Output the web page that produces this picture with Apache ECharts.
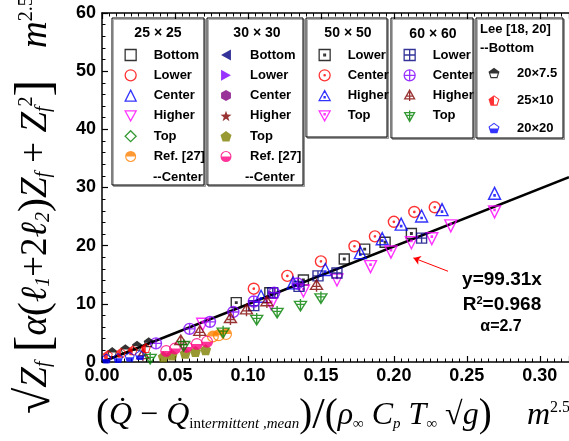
<!DOCTYPE html>
<html>
<head>
<meta charset="utf-8">
<script src="https://cdn.jsdelivr.net/npm/echarts@6/dist/echarts.min.js"></script>
<style>
  html, body { margin: 0; padding: 0; background: #fff; }
  #chart { width: 569px; height: 441px; }
</style>
</head>
<body>
<div id="chart"></div>
<script>
// tick labels
const xTickLabels = ['0.00', '0.05', '0.10', '0.15', '0.20', '0.25', '0.30'];
const yTickLabels = ['0', '10', '20', '30', '40', '50', '60'];

// 25x25 (only the Ref. [27] centre points are visible)
const s25Bottom = [];
const s25Lower = [];
const s25Center = [];
const s25Higher = [];
const s25Top = [];
const s25Ref = [[0.076, 4.4], [0.080, 4.6], [0.085, 4.8]];

// 30x30
const s30Bottom = [];
const s30Lower = [];
const s30Center = [];
const s30Higher = [];
const s30Top = [[0.042, 0.9], [0.048, 1.2], [0.057, 1.5], [0.064, 1.8], [0.071, 2.1]];
const s30Ref = [[0.044, 1.9], [0.050, 2.3], [0.058, 2.6], [0.065, 3.1], [0.072, 3.5]];

// 50x50
const s50Lower = [[0.092, 10.2], [0.115, 11.9], [0.138, 14.1], [0.166, 17.7], [0.180, 19.4], [0.194, 20.6], [0.212, 22.1]];
const s50Center = [[0.104, 12.6], [0.127, 14.8], [0.150, 17.3], [0.173, 19.9], [0.187, 21.6], [0.200, 24.1], [0.214, 25.8], [0.228, 26.6]];
const s50Higher = [[0.109, 11.3], [0.131, 13.6], [0.153, 15.9], [0.177, 18.8], [0.192, 21.2], [0.205, 23.7], [0.219, 25.1], [0.233, 26.2], [0.269, 29.0]];
const s50Top = [[0.069, 6.5], [0.116, 10.0], [0.138, 12.2], [0.161, 14.1], [0.184, 16.4], [0.198, 18.9], [0.212, 20.5], [0.226, 21.2], [0.239, 23.4], [0.269, 25.8]];

// 60x60
const s60Lower = [[0.104, 9.7], [0.117, 11.9], [0.135, 13.0], [0.148, 14.8], [0.161, 15.3], [0.219, 21.3]];
const s60Center = [[0.037, 3.2], [0.060, 5.7], [0.074, 6.9], [0.090, 8.6], [0.104, 10.4], [0.118, 11.9], [0.134, 13.5]];
const s60Higher = [[0.028, 1.2], [0.054, 3.6], [0.067, 5.2], [0.088, 7.4], [0.099, 8.9], [0.113, 10.3], [0.147, 13.1]];
const s60Top = [[0.033, 0.7], [0.056, 2.9], [0.083, 5.2], [0.106, 7.4], [0.120, 8.6], [0.136, 9.8], [0.150, 11.1]];

// Lee [18, 20] --Bottom
const lee20x75 = [[0.007, 1.7], [0.016, 2.2], [0.024, 2.8], [0.032, 3.4]];
const lee25x10 = [[0.004, 1.2], [0.013, 1.6], [0.021, 2.0], [0.030, 2.4]];
const lee20x20 = [[0.003, 0.6], [0.011, 0.7], [0.019, 0.9], [0.026, 1.2]];

// fit y = 99.31x and the pointer arrow
const fitLine = [[0, 0], [0.32, 31.78]];
const arrowFrom = [0.2371, 15.6];
const arrowTo = [0.2134, 17.9];

const sans = '"Liberation Sans", Arial, sans-serif';
const serif = '"Liberation Serif", "DejaVu Serif", serif';

// marker shapes
const ring = 'M0 10A10 10 0 1 1 20 10A10 10 0 1 1 0 10Z M2 10A8 8 0 1 0 18 10A8 8 0 1 0 2 10Z';
const pentRing = 'M10 0L20 7.3L16.2 19H3.8L0 7.3Z M10 2.2L2.2 7.7L5.2 16.9H14.8L17.8 7.7Z';
const sym = {
  sqDot: 'path://M0 0H20V20H0Z M8.5 8.5H11.5V11.5H8.5Z',
  cirDot: 'path://M0 10A10 10 0 1 1 20 10A10 10 0 1 1 0 10Z M8.8 10A1.2 1.2 0 1 1 11.2 10A1.2 1.2 0 1 1 8.8 10Z',
  triDot: 'path://M10 0L20 18H0Z M9 11H11V13H9Z',
  dtriDot: 'path://M0 0H20L10 18Z M9 5H11V7H9Z',
  sqCross: 'path://M0 0H20V20H0Z M10 0V20 M0 10H20',
  cirCross: 'path://M0 10A10 10 0 1 1 20 10A10 10 0 1 1 0 10Z M10 0V20 M0 10H20',
  triCross: 'path://M10 0L19 16H1Z M10 0V20 M4 11H16',
  dtriCross: 'path://M1 4H19L10 20Z M10 0V20 M4 9H16',
  leftTri: 'path://M0 10L18 0V20Z',
  rightTri: 'path://M18 10L0 0V20Z',
  hexagon: 'path://M10 0L19 5V15L10 20L1 15V5Z',
  star: 'path://M10 0.5L12.35 7.26L19.51 7.41L13.8 11.74L15.88 18.59L10 14.5L4.12 18.59L6.2 11.74L0.49 7.41L7.65 7.26Z',
  pentagon: 'path://M10 0L20 7.3L16.2 19H3.8L0 7.3Z',
  halfTop: 'path://' + ring + ' M0 10A10 10 0 0 1 20 10Z',
  halfBottom: 'path://' + ring + ' M20 10A10 10 0 0 1 0 10Z',
  pentTop: 'path://' + pentRing + ' M10 0L20 7.3L19 10.3H1L0 7.3Z',
  pentLeft: 'path://' + pentRing + ' M10 0V19H3.8L0 7.3Z',
  pentBottom: 'path://' + pentRing + ' M19 10.3L16.2 19H3.8L1 10.3Z'
};

function openSeries(name, data, symbol, color, size) {
  return {
    type: 'scatter', name: name, data: data, symbol: symbol, symbolSize: size,
    itemStyle: { color: 'rgba(0,0,0,0)', borderColor: color, borderWidth: 1.4 }
  };
}
function solidSeries(name, data, symbol, color, size) {
  return {
    type: 'scatter', name: name, data: data, symbol: symbol, symbolSize: size,
    itemStyle: { color: color, borderWidth: 0 }
  };
}

const series = [
  {
    type: 'line', name: 'fit', data: fitLine, symbol: 'none', z: 1, silent: true,
    lineStyle: { color: '#000', width: 2.5 },
    markLine: {
      silent: true, symbol: ['none', 'arrow'], symbolSize: 7,
      label: { show: false },
      lineStyle: { color: '#ff0000', width: 1, type: 'solid' },
      data: [[{ coord: arrowFrom }, { coord: arrowTo }]]
    }
  },
  openSeries('25×25|Bottom', s25Bottom, 'rect', '#000000', 10),
  openSeries('25×25|Lower', s25Lower, 'circle', '#ff0000', 11),
  openSeries('25×25|Center', s25Center, 'triangle', '#0000ff', 12),
  openSeries('25×25|Higher', s25Higher, 'path://M0 0H20L10 18Z', '#ff00ff', 12),
  openSeries('25×25|Top', s25Top, 'diamond', '#008000', 12),
  solidSeries('25×25|Ref. [27]', s25Ref, sym.halfTop, '#ff8000', 12),
  solidSeries('30×30|Bottom', s30Bottom, sym.leftTri, '#000080', 12),
  solidSeries('30×30|Lower', s30Lower, sym.rightTri, '#8000ff', 12),
  solidSeries('30×30|Center', s30Center, sym.hexagon, '#800080', 12),
  solidSeries('30×30|Higher', s30Higher, sym.star, '#800000', 12),
  solidSeries('30×30|Top', s30Top, sym.pentagon, '#808000', 11),
  solidSeries('30×30|Ref. [27]', s30Ref, sym.halfBottom, '#ff0080', 12),
  openSeries('50×50|Lower', s50Lower, sym.sqDot, '#000000', 10),
  openSeries('50×50|Center', s50Center, sym.cirDot, '#ff0000', 11),
  openSeries('50×50|Higher', s50Higher, sym.triDot, '#0000ff', 12),
  openSeries('50×50|Top', s50Top, sym.dtriDot, '#ff00ff', 12),
  openSeries('60×60|Lower', s60Lower, sym.sqCross, '#000080', 10),
  openSeries('60×60|Center', s60Center, sym.cirCross, '#8000ff', 11),
  openSeries('60×60|Higher', s60Higher, sym.triCross, '#800000', 12),
  openSeries('60×60|Top', s60Top, sym.dtriCross, '#008000', 12),
  solidSeries('Lee|20×7.5', lee20x75, sym.pentTop, '#000000', 10),
  solidSeries('Lee|25×10', lee25x10, sym.pentLeft, '#ff0000', 10),
  solidSeries('Lee|20×20', lee20x20, sym.pentBottom, '#0000ff', 10)
];

function groupNames(prefix) {
  return series.filter(s => s.name.indexOf(prefix + '|') === 0).map(s => s.name);
}
function makeLegend(prefix, left, top, gap, pad) {
  return {
    orient: 'vertical', left: left, top: top, padding: 0,
    itemWidth: 11, itemHeight: 11, itemGap: gap,
    selectedMode: false,
    data: groupNames(prefix),
    formatter: name => name.split('|')[1],
    itemStyle: { borderWidth: 1.3 },
    textStyle: { fontFamily: sans, fontSize: 13, fontWeight: 'bold', color: '#000', padding: [0, 0, 0, pad] }
  };
}

function box(x1, y1, x2, y2) {
  return {
    type: 'rect', z: 0,
    shape: { x: x1, y: y1, width: x2 - x1, height: y2 - y1 },
    style: { fill: '#fff', stroke: '#000', lineWidth: 1, shadowColor: 'rgba(0,0,0,0.3)', shadowOffsetX: 1.5, shadowOffsetY: 1.5, shadowBlur: 0 }
  };
}
function label(x, y, text, align, size) {
  return {
    type: 'text', x: x, y: y, z: 5,
    style: {
      text: text, align: align || 'center', verticalAlign: 'middle', fill: '#000',
      font: 'bold ' + (size || 13) + 'px ' + sans,
      rich: {
        b: { fontFamily: sans, fontSize: size || 13, fontWeight: 'bold' },
        c: { fontFamily: sans, fontSize: size || 13, fontWeight: 'bold', padding: [0, 2, 0, 2] },
        sup: { fontFamily: sans, fontSize: 11, fontWeight: 'bold', padding: [0, 0, 9, 0] }
      }
    }
  };
}

const mathRich = {
  v: { fontFamily: serif, fontStyle: 'italic', fontSize: 37, color: '#000' },
  n: { fontFamily: serif, fontSize: 37, color: '#000' },
  p: { fontFamily: serif, fontSize: 42, color: '#000' },
  br: { fontFamily: serif, fontSize: 50, color: '#000' },
  rad: { fontFamily: serif, fontSize: 48, color: '#000' },
  sub: { fontFamily: serif, fontStyle: 'italic', fontSize: 20, color: '#000', padding: [16, 0, 0, 0] },
  sup: { fontFamily: serif, fontSize: 20, color: '#000', padding: [0, 0, 18, 0] }
};
const xRich = {
  v: { fontFamily: serif, fontStyle: 'italic', fontSize: 32, color: '#000' },
  n: { fontFamily: serif, fontSize: 32, color: '#000' },
  p: { fontFamily: serif, fontSize: 39, color: '#000' },
  sl: { fontFamily: serif, fontSize: 45, color: '#000' },
  sub: { fontFamily: serif, fontStyle: 'italic', fontSize: 15, color: '#000', padding: [16, 0, 0, 0] },
  subr: { fontFamily: serif, fontSize: 15, color: '#000', padding: [16, 0, 0, 0] },
  sup: { fontFamily: serif, fontSize: 16, color: '#000', padding: [0, 0, 16, 0] }
};

const chart = echarts.init(document.getElementById('chart'));

const axisCommon = {
  type: 'value',
  axisLine: { onZero: false, lineStyle: { color: '#000', width: 1.5 } },
  axisTick: { inside: true, length: 6, lineStyle: { color: '#000', width: 1.2 } },
  splitLine: { show: false }
};

chart.setOption({
  animation: false,
  backgroundColor: '#fff',
  grid: { left: 102, right: -5, top: 13, bottom: 79 },
  xAxis: [
    Object.assign({}, axisCommon, {
      position: 'bottom', min: 0, max: 0.32, interval: 0.05,
      minorTick: { show: true, splitNumber: 10, length: 3.5, lineStyle: { color: '#000', width: 1 } },
      axisLabel: {
        margin: 5, color: '#000', fontFamily: sans, fontSize: 18, fontWeight: 'bold', showMaxLabel: false,
        formatter: v => xTickLabels[Math.round(v / 0.05)] || ''
      }
    }),
    Object.assign({}, axisCommon, {
      position: 'top', min: 0, max: 0.32, interval: 0.05,
      minorTick: { show: true, splitNumber: 10, length: 3.5, lineStyle: { color: '#000', width: 1 } },
      axisLabel: { show: false }
    })
  ],
  yAxis: Object.assign({}, axisCommon, {
    min: 0, max: 60, interval: 10,
    minorTick: { show: true, splitNumber: 5, length: 3.5, lineStyle: { color: '#000', width: 1 } },
    axisLabel: {
      margin: 6, color: '#000', fontFamily: sans, fontSize: 18, fontWeight: 'bold',
      formatter: v => yTickLabels[Math.round(v / 10)]
    }
  }),
  legend: [
    makeLegend('25×25', 124.5, 48.5, 7.3, 12.5),
    makeLegend('30×30', 220.5, 48.5, 7.3, 13.5),
    makeLegend('50×50', 318.5, 48.5, 7.3, 12.5),
    makeLegend('60×60', 403.5, 48.5, 7.3, 12.5),
    makeLegend('Lee', 488.5, 66.5, 14.5, 12.5)
  ],
  graphic: [
    box(112, 18, 204, 185),
    box(207, 18, 303, 185),
    box(306, 18, 387, 137),
    box(391, 18, 473, 138),
    box(476, 18, 563, 138),
    label(158, 33, '{c|25}{c|×}{c|25}', 'center', 14),
    label(257, 33, '{c|30}{c|×}{c|30}', 'center', 14),
    label(348, 33, '{c|50}{c|×}{c|50}', 'center', 14),
    label(433, 34, '{c|60}{c|×}{c|60}', 'center', 14),
    label(153, 177, '--Center', 'left'),
    label(245, 177, '--Center', 'left'),
    label(480, 29, 'Lee [18, 20]', 'left'),
    label(480, 48, '--Bottom', 'left'),
    label(502, 280, 'y=99.31x', 'center', 19),
    label(502, 305, '{b|R}{sup|2}{b|=0.968}', 'center', 19),
    label(501, 327, 'α=2.7', 'center', 16),
    {
      type: 'text', x: 36, y: 414, rotation: Math.PI / 2, z: 5,
      style: {
        text: '{rad|√}{v|Z}{sub|f}{n| }{br|[}{v|α}{p|(}{v|ℓ}{sub|1}{n|+2}{v|ℓ}{sub|2}{p|)}{v|Z}{sub|f}{n| + }{v|Z}{sub|f}{sup|2}{br|]}',
        align: 'left', verticalAlign: 'middle', rich: mathRich
      }
    },
    {
      type: 'text', x: 36, y: 48, rotation: Math.PI / 2, z: 5,
      style: { text: '{v|m}{sup|2.5}', align: 'left', verticalAlign: 'middle', rich: mathRich }
    },
    {
      type: 'text', x: 96, y: 416, z: 5,
      style: {
        text: '{p|(}{v|Q̇}{n| − }{v|Q̇}{subr|int}{sub|ermittent ,mean}{p|)}{sl|/}{p|(}{v|ρ}{sub|∞}{n| }{v|C}{sub|p}{n| }{v|T}{sub|∞}{n| √}{v|g}{p|)}',
        align: 'left', verticalAlign: 'middle', rich: xRich
      }
    },
    {
      type: 'text', x: 527, y: 416, z: 5,
      style: { text: '{v|m}{sup|2.5}', align: 'left', verticalAlign: 'middle', rich: xRich }
    }
  ],
  series: series
});
</script>
</body>
</html>
